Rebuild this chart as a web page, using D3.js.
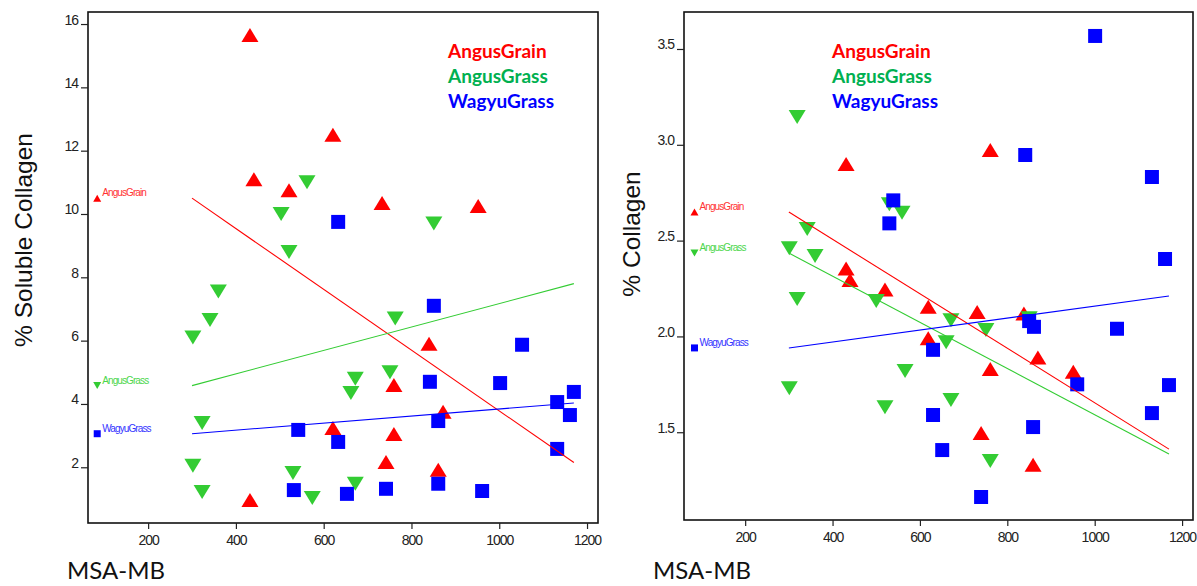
<!DOCTYPE html>
<html>
<head>
<meta charset="utf-8">
<script src="https://cdn.jsdelivr.net/npm/d3@7"></script>
<style>
  body { margin: 0; background: #fff; }
  .tick text { font-family: "Liberation Sans", Arial, sans-serif; font-size: 14px; letter-spacing: -1px; fill: #222; }
  .tick line { stroke: #222; stroke-width: 1.2; }
  .axis-title { font-family: "Liberation Sans", Arial, sans-serif; font-size: 24.5px; fill: #111; }
  .x-title { font-family: Lato, "Open Sans", sans-serif; font-size: 24px; fill: #111; }
  .legend { font-family: Lato, "Open Sans", sans-serif; font-size: 19px; font-weight: bold; }
  .line-label { font-family: "Liberation Sans", Arial, sans-serif; font-size: 10px; letter-spacing: -0.9px; }
</style>
</head>
<body>
<div id="chart"></div>
<script>
// categories and colours
const groups = ["AngusGrain", "AngusGrass", "WagyuGrass"];
const markerColors = { AngusGrain: "#ff0000", AngusGrass: "#33cc33", WagyuGrass: "#0000ff" };
const legendColors = { AngusGrain: "#ff0000", AngusGrass: "#00b050", WagyuGrass: "#0000ff" };
const labelColors = { AngusGrain: "#ff3333", AngusGrass: "#4cd64c", WagyuGrass: "#3333ff" };

// tick labels
const msaTicks = [200, 400, 600, 800, 1000, 1200];
const solubleTicks = [2, 4, 6, 8, 10, 12, 14, 16];
const collagenTicks = [1.5, 2.0, 2.5, 3.0, 3.5];

// panel 1: % Soluble Collagen vs MSA-MB  ([msa, value])
const solAngusGrain = [[432, 15.65], [441, 11.1], [521, 10.75], [621, 12.5], [733, 10.35], [952, 10.25],
  [840, 5.9], [760, 4.6], [872, 3.75], [621, 3.24], [760, 3.05], [742, 2.17], [861, 1.92], [432, 0.97]];
const solAngusGrass = [[562, 11.0], [503, 10.0], [521, 8.8], [360, 7.55], [341, 6.65], [302, 6.1],
  [763, 6.7], [672, 4.8], [662, 4.35], [751, 5.0], [851, 9.7], [323, 3.4], [302, 2.05], [323, 1.22],
  [530, 1.82], [574, 1.03], [672, 1.48]];
const solWagyuGrass = [[633, 9.75], [851, 7.1], [1052, 5.87], [842, 4.7], [1002, 4.66], [1170, 4.38],
  [1132, 4.06], [1161, 3.65], [861, 3.46], [542, 3.18], [633, 2.8], [1132, 2.58], [532, 1.28],
  [653, 1.16], [742, 1.32], [861, 1.48], [961, 1.25]];
const solFitAngusGrain = [[300, 10.5], [1170, 2.15]];
const solFitAngusGrass = [[300, 4.58], [1170, 7.8]];
const solFitWagyuGrass = [[300, 3.06], [1170, 4.03]];

// panel 2: % Collagen vs MSA-MB
const colAngusGrain = [[431, 2.9], [431, 2.355], [440, 2.295], [520, 2.245], [619, 2.155], [731, 2.127],
  [838, 2.12], [619, 1.99], [870, 1.89], [761, 1.83], [951, 1.815], [740, 1.496], [859, 1.33], [761, 2.973]];
const colAngusGrass = [[319, 3.145], [530, 2.69], [559, 2.645], [342, 2.56], [301, 2.46], [360, 2.42],
  [319, 2.195], [500, 2.185], [566, 1.82], [301, 1.73], [520, 1.63], [850, 2.095], [671, 2.085],
  [751, 2.033], [660, 1.97], [671, 1.668], [761, 1.35]];
const colWagyuGrass = [[539, 2.71], [530, 2.59], [850, 2.08], [861, 2.05], [1051, 2.04], [630, 1.93],
  [960, 1.75], [1170, 1.746], [630, 1.59], [1131, 1.6], [859, 1.527], [651, 1.407], [740, 1.162],
  [1001, 3.568], [841, 2.947], [1131, 2.832], [1161, 2.404]];
const colFitAngusGrain = [[300, 2.649], [1170, 1.412]];
const colFitAngusGrass = [[300, 2.435], [1170, 1.386]];
const colFitWagyuGrass = [[300, 1.94], [1170, 2.211]];

const width = 1197, height = 586;
const svg = d3.select("#chart").append("svg").attr("width", width).attr("height", height);

function markerPath(kind, x, y, w, h) {
  if (kind === "AngusGrain") return `M${x - w / 2},${y + h / 2}L${x + w / 2},${y + h / 2}L${x},${y - h / 2}Z`;
  if (kind === "AngusGrass") return `M${x - w / 2},${y - h / 2}L${x + w / 2},${y - h / 2}L${x},${y + h / 2}Z`;
  const s = h;
  return `M${x - s / 2},${y - s / 2}h${s}v${s}h${-s}Z`;
}

function drawPanel(cfg) {
  const x = d3.scaleLinear().domain(cfg.xDomain).range([cfg.left, cfg.right]);
  const y = d3.scaleLinear().domain(cfg.yDomain).range([cfg.bottom, cfg.top]);
  const g = svg.append("g");

  // frame
  g.append("rect")
    .attr("x", cfg.left).attr("y", cfg.top)
    .attr("width", cfg.right - cfg.left).attr("height", cfg.bottom - cfg.top)
    .attr("fill", "none").attr("stroke", "#111").attr("stroke-width", 1.6);

  // axes
  const xAxis = g.append("g")
    .attr("transform", `translate(0,${cfg.bottom})`)
    .call(d3.axisBottom(x).tickValues(msaTicks).tickSize(6).tickFormat(d3.format("d")));
  xAxis.select(".domain").remove();
  xAxis.selectAll(".tick text").attr("y", 12);

  const yAxis = g.append("g")
    .attr("transform", `translate(${cfg.left},0)`)
    .call(d3.axisLeft(y).tickValues(cfg.yTicks).tickSize(7).tickFormat(cfg.yFormat));
  yAxis.select(".domain").remove();
  yAxis.selectAll(".tick text").attr("x", -10).attr("dy", "0em");

  // points
  const series = [
    ["AngusGrain", cfg.points[0]],
    ["AngusGrass", cfg.points[1]],
    ["WagyuGrass", cfg.points[2]]
  ];
  series.forEach(([name, pts]) => {
    g.append("g").selectAll("path")
      .data(pts)
      .enter()
      .append("path")
      .attr("d", d => markerPath(name, x(d[0]), y(d[1]), name === "WagyuGrass" ? 13 : 17, 14))
      .attr("fill", markerColors[name]);
  });

  // fitted lines
  const line = d3.line().x(d => x(d[0])).y(d => y(d[1]));
  cfg.fits.forEach((fit, i) => {
    g.append("path")
      .attr("d", line(fit))
      .attr("fill", "none")
      .attr("stroke", markerColors[groups[i]])
      .attr("stroke-width", 1.1);
  });

  // line labels at the left edge
  cfg.fits.forEach((fit, i) => {
    const name = groups[i];
    const px = x(84), py = y(fit[0][1]);
    g.append("path")
      .attr("d", markerPath(name, px, py, 8, 7))
      .attr("fill", markerColors[name]);
    g.append("text")
      .attr("class", "line-label")
      .attr("x", px + 5).attr("y", py - 2)
      .attr("fill", labelColors[name])
      .text(name);
  });

  // legend
  groups.forEach((name, i) => {
    g.append("text")
      .attr("class", "legend")
      .attr("x", cfg.legendX).attr("y", 58 + i * 25)
      .attr("fill", legendColors[name])
      .text(name);
  });

  // titles
  g.append("text")
    .attr("class", "axis-title")
    .attr("transform", `translate(${cfg.yTitleX},${cfg.yTitleY}) rotate(-90)`)
    .attr("text-anchor", "middle")
    .text(cfg.yTitle);

  g.append("text")
    .attr("class", "x-title")
    .attr("x", cfg.xTitleX).attr("y", 579)
    .text("MSA-MB");
}

drawPanel({
  left: 88, right: 598, top: 12, bottom: 523,
  xDomain: [63, 1225], yDomain: [0.24, 16.38],
  yTicks: solubleTicks, yFormat: d3.format("d"),
  points: [solAngusGrain, solAngusGrass, solWagyuGrass],
  fits: [solFitAngusGrain, solFitAngusGrass, solFitWagyuGrass],
  legendX: 448,
  yTitle: "% Soluble Collagen", yTitleX: 32, yTitleY: 240,
  xTitleX: 67
});

drawPanel({
  left: 684, right: 1193, top: 12, bottom: 520,
  xDomain: [60, 1225], yDomain: [1.042, 3.693],
  yTicks: collagenTicks, yFormat: d3.format(".1f"),
  points: [colAngusGrain, colAngusGrass, colWagyuGrass],
  fits: [colFitAngusGrain, colFitAngusGrass, colFitWagyuGrass],
  legendX: 832,
  yTitle: "% Collagen", yTitleX: 640, yTitleY: 234,
  xTitleX: 653
});
</script>
</body>
</html>
